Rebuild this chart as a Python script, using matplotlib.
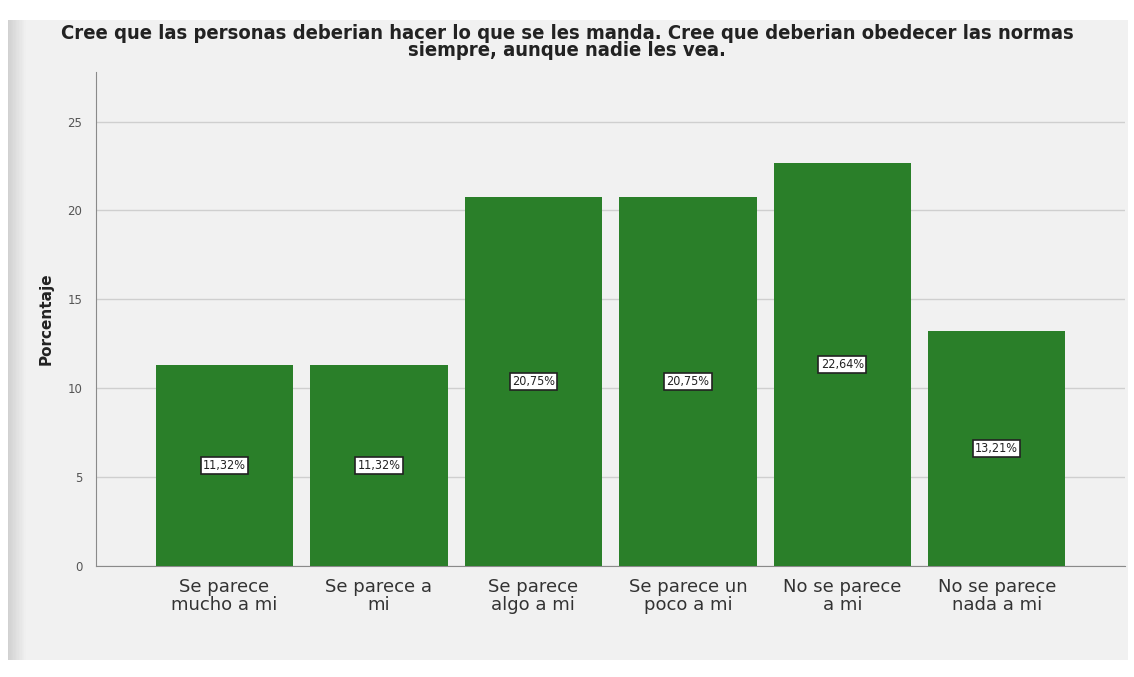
import matplotlib.pyplot as plt
import matplotlib.patches as mpatches
import numpy as np

categories = ["Se parece\nmucho a mi", "Se parece a\nmi", "Se parece\nalgo a mi",
              "Se parece un\npoco a mi", "No se parece\na mi", "No se parece\nnada a mi"]
percent = [11.32, 11.32, 20.75, 20.75, 22.64, 13.21]
yticks = [0, 5, 10, 15, 20, 25]
title = ("Cree que las personas deberian hacer lo que se les manda. Cree que deberian obedecer las normas\n"
         "siempre, aunque nadie les vea.")

bar_color = "#2a7f29"

fig = plt.figure(figsize=(11.34, 6.77), dpi=100)
fig.patch.set_facecolor("white")

# panel background with a soft shadow on the left edge
fig.patches.append(mpatches.Rectangle((0.007, 0.025), 0.988, 0.945, transform=fig.transFigure,
                                      facecolor="#f1f1f1", edgecolor="none", zorder=0))
for i, g in enumerate(np.linspace(0.82, 0.945, 14)):
    fig.patches.append(mpatches.Rectangle((0.007 + i * 0.0012, 0.025), 0.0013, 0.945,
                                          transform=fig.transFigure, facecolor=(g, g, g),
                                          edgecolor="none", zorder=0))

ax = fig.add_axes([0.0847, 0.164, 0.9073, 0.730])
ax.set_zorder(2)
ax.patch.set_alpha(0)

x = np.arange(len(categories))
ax.bar(x, percent, width=0.89, color=bar_color, zorder=3)

for xi, v in zip(x, percent):
    ax.text(xi, v / 2, f"{v:.2f}%".replace(".", ","), ha="center", va="center",
            fontsize=9, fontstretch="condensed", color="#222222", zorder=4,
            bbox=dict(boxstyle="square,pad=0.18", facecolor="white", edgecolor="#222222", lw=1.2))

ax.set_xlim(-0.832, 5.83)
ax.set_ylim(0, 27.8)
ax.set_yticks(yticks)
ax.set_yticklabels([str(t) for t in yticks], fontsize=8.5, color="#555555")
ax.set_xticks(x)
ax.set_xticklabels(categories, fontsize=13, color="#333333", linespacing=0.95)
ax.tick_params(axis="x", length=0, pad=9)
ax.tick_params(axis="y", length=0, pad=10)
ax.grid(axis="y", color="#cfcfcf", lw=1, zorder=0)
ax.spines["top"].set_visible(False)
ax.spines["right"].set_visible(False)
ax.spines["left"].set_color("#8a8a8a")
ax.spines["bottom"].set_color("#8a8a8a")
ax.set_ylabel("Porcentaje", fontsize=11, fontweight="bold", color="#222222", labelpad=10)

fig.text(0.5, 0.938, title, ha="center", va="center", fontsize=14.5, fontweight="bold",
         fontstretch="condensed", color="#222222", linespacing=0.85, zorder=3)

fig.savefig("out.png", dpi=100, facecolor=fig.get_facecolor())
